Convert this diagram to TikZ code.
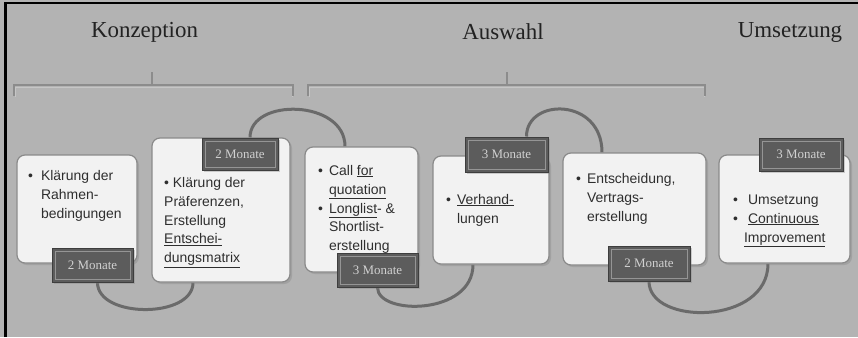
\documentclass[tikz,border=0pt]{standalone}
\usepackage{fontspec}
\setmainfont{Liberation Serif}
\newfontfamily\boxfont{Liberation Sans}
\usetikzlibrary{shadows}
\pgfdeclarelayer{bgl}\pgfdeclarelayer{arcl}\pgfsetlayers{bgl,arcl,main}
\definecolor{bgc}{HTML}{B3B3B3}
\definecolor{boxfill}{HTML}{F2F2F2}
\definecolor{boxline}{HTML}{8A8A8A}
\definecolor{tagfill}{HTML}{5C5C5C}
\definecolor{tagline}{HTML}{3E3E3E}
\definecolor{tagin}{HTML}{959595}
\definecolor{tagtext}{HTML}{D0D0D0}
\definecolor{arcc}{HTML}{6A6A6A}
\definecolor{headc}{HTML}{222222}
\definecolor{txtc}{HTML}{2E2E2E}
\definecolor{brc}{HTML}{8C8C8C}
\definecolor{brhi}{HTML}{C6C6C6}
\tikzset{
  boxnode/.style={draw=boxline, line width=1.2bp, fill=boxfill, rounded corners=8bp,
    inner sep=0, drop shadow={shadow xshift=2bp, shadow yshift=-2bp, opacity=.35}},
  tagnode/.style={draw=tagline, line width=1bp, fill=tagfill, inner sep=0,
    text=tagtext, font=\fontsize{13}{15}\selectfont,
    drop shadow={shadow xshift=2bp, shadow yshift=-2bp, opacity=.35},
    path picture={\draw[tagin, line width=1bp]
      ([shift={(3bp,-3bp)}]path picture bounding box.north west) rectangle
      ([shift={(-3bp,3bp)}]path picture bounding box.south east);}},
  btext/.style={inner sep=0, anchor=north west, text=txtc,
    font=\boxfont\fontsize{14}{19}\selectfont},
  head/.style={text=headc, font=\fontsize{23}{27}\selectfont, inner sep=0},
  arcline/.style={draw=arcc, line width=3bp},
  brline/.style={draw=brc, line width=1.2bp},
  brlight/.style={draw=brhi, line width=1bp}
}
\begin{document}
\begin{tikzpicture}[x=1bp,y=-1bp]
\begin{pgfonlayer}{bgl}
\fill[bgc] (0,0) rectangle (858,337);
\end{pgfonlayer}
\useasboundingbox (0,0) rectangle (858,337);
\draw[black, line width=2.6bp] (5.3,337) -- (5.3,3) -- (858,3);

% headings
\node[head] (h1) at (144.5,32) {Konzeption};
\node[head] (h2) at (503,32) {Auswahl};
\node[head] (h3) at (790,32) {Umsetzung};

% brackets
\draw[brlight] (15,97) -- (15,87) -- (292,87) -- (292,97);
\draw[brline] (14,96) -- (14,85) -- (293,85) -- (293,96);
\draw[brline] (152,85) -- (152,72);
\draw[brlight] (309,97) -- (309,87) -- (704,87) -- (704,97);
\draw[brline] (308,96) -- (308,85) -- (705,85) -- (705,96);
\draw[brline] (507,85) -- (507,72);

% boxes
\node[boxnode, minimum width=120bp, minimum height=108bp] (b1) at (77,209) {};
\node[boxnode, minimum width=138bp, minimum height=144bp] (b2) at (221,210) {};
\node[boxnode, minimum width=113bp, minimum height=125bp] (b3) at (361.5,209.5) {};
\node[boxnode, minimum width=116bp, minimum height=108bp] (b4) at (491,210) {};
\node[boxnode, minimum width=143bp, minimum height=112bp] (b5) at (634.5,209) {};
\node[boxnode, minimum width=131bp, minimum height=108bp] (b6) at (784.5,209) {};

% tags
\node[tagnode, minimum width=81bp, minimum height=34bp] (t1) at (92.5,265) {2 Monate};
\node[tagnode, minimum width=76bp, minimum height=32bp] (t2) at (240,154) {2 Monate};
\node[tagnode, minimum width=81bp, minimum height=34bp] (t3) at (377.5,270) {3 Monate};
\node[tagnode, minimum width=83bp, minimum height=35bp] (t4) at (506.5,154.5) {3 Monate};
\node[tagnode, minimum width=82bp, minimum height=35bp] (t5) at (649,263.5) {2 Monate};
\node[tagnode, minimum width=84bp, minimum height=33bp] (t6) at (801,154.5) {3 Monate};

% arcs
\begin{pgfonlayer}{arcl}
\draw[arcline] ([xshift=5bp]t1.south) .. controls +(0,36) and +(0,36) .. ([xshift=-28bp]b2.south);
\draw[arcline] ([xshift=10bp]t2.north) .. controls +(0,-40) and +(0,-47) .. ([xshift=-16.5bp]b3.north);
\draw[arcline] (t3.south) .. controls +(0,28) and +(0,51) .. ([xshift=-18bp]b4.south);
\draw[arcline] ([xshift=20bp]t4.north) .. controls +(0,-39) and +(0,-55) .. ([xshift=-32.5bp]b5.north);
\draw[arcline] (t5.south) .. controls +(0,44) and +(0,62) .. ([xshift=-16.5bp]b6.south);
\end{pgfonlayer}

% texts
\node[btext] (x1) at (28,166.7) {\begin{tabular}{@{}l@{\hspace{8bp}}l@{}}
\textbullet & Klärung der\\ & Rahmen-\\ & bedingungen\end{tabular}};
\node[btext] (x2) at (164,173.7) {\begin{tabular}{@{}l@{}}
\textbullet{} Klärung der\\ Präferenzen,\\ Erstellung\\ \underline{Entschei-}\\ \underline{dungsmatrix}\end{tabular}};
\node[btext] (x3) at (318,161.7) {\begin{tabular}{@{}l@{\hspace{6bp}}l@{}}
\textbullet & Call \underline{for}\\ & \underline{quotation}\\
\textbullet & \underline{Longlist}- \&\\ & Shortlist-\\ & erstellung\end{tabular}};
\node[btext] (x4) at (446,190.7) {\begin{tabular}{@{}l@{\hspace{6bp}}l@{}}
\textbullet & \underline{Verhand-}\\ & lungen\end{tabular}};
\node[btext] (x5) at (576,169.7) {\begin{tabular}{@{}l@{\hspace{6bp}}l@{}}
\textbullet & Entscheidung,\\ & Vertrags-\\ & erstellung\end{tabular}};
\node[btext] (x6) at (733,190.7) {\begin{tabular}{@{}l@{\hspace{10bp}}l@{}}
\textbullet & Umsetzung\\ \textbullet & \underline{Continuous}\\ & \hspace*{-4bp}\underline{Improvement}\end{tabular}};
\end{tikzpicture}
\end{document}
